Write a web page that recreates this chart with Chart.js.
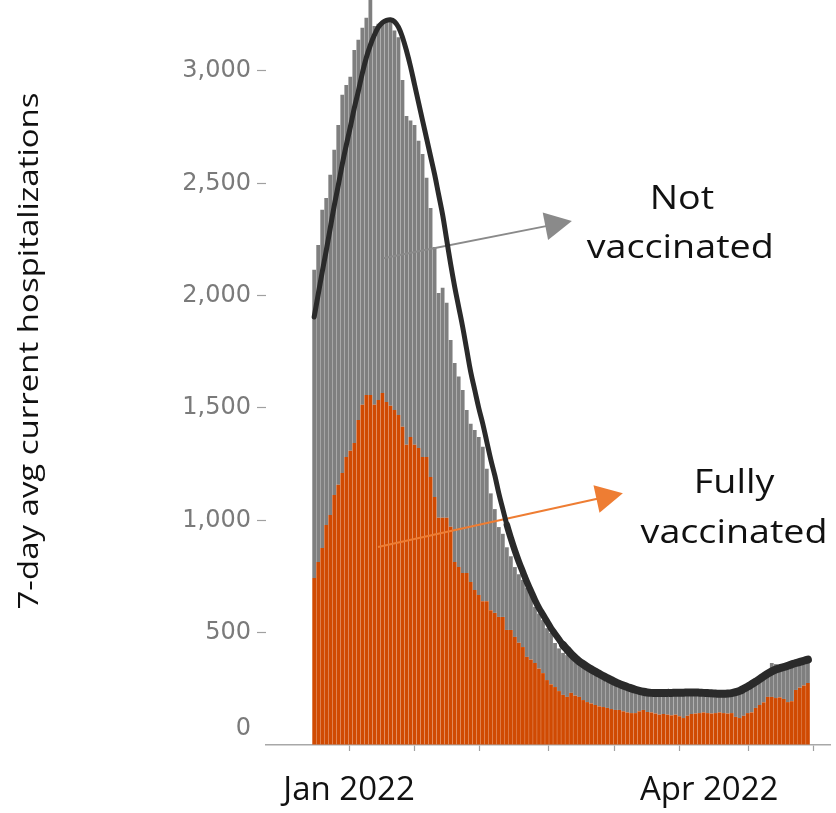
<!DOCTYPE html>
<html>
<head>
<meta charset="utf-8">
<title>7-day avg current hospitalizations</title>
<script src="https://cdn.jsdelivr.net/npm/chart.js@4.4.0/dist/chart.umd.min.js"></script>
<style>
  html, body { margin: 0; padding: 0; background: #fff; }
  #wrap { width: 836px; height: 813px; }
</style>
</head>
<body>
<div id="wrap"><canvas id="hospChart" width="836" height="813"></canvas></div>
<script>
/* Datos: un valor por día, desde el 23 dic 2021 (día 0) */
const fullyVaccinated = [
  743, 815, 877, 979, 1024, 1113, 1158, 1211, 1282, 1310,
  1344, 1447, 1514, 1558, 1558, 1514, 1536, 1567, 1527, 1510,
  1491, 1469, 1416, 1336, 1371, 1336, 1322, 1282, 1282, 1193,
  1104, 1011, 1011, 1011, 971, 815, 792, 766, 766, 726,
  690, 668, 640, 640, 600, 588, 570, 570, 512, 512,
  481, 455, 436, 392, 380, 365, 340, 320, 289, 270,
  258, 240, 223, 214, 232, 220, 214, 200, 191, 185,
  178, 172, 169, 165, 160, 156, 156, 150, 145, 142,
  142, 150, 156, 147, 145, 140, 135, 138, 135, 132,
  135, 128, 120, 130, 138, 140, 142, 145, 142, 140,
  142, 145, 142, 140, 142, 125, 120, 130, 142, 145,
  165, 178, 190, 214, 214, 209, 212, 205, 191, 195,
  245, 255, 265, 276
];
const notVaccinated = [
  1372, 1411, 1505, 1456, 1514, 1536, 1602, 1683, 1656, 1664,
  1750, 1692, 1678, 1679, 1772, 1686, 1674, 1648, 1693, 1715,
  1689, 1681, 1544, 1464, 1409, 1424, 1368, 1348, 1243, 1197,
  1113, 1001, 1024, 957, 832, 885, 848, 814, 725, 704,
  712, 703, 687, 590, 520, 462, 400, 370, 368, 328,
  311, 305, 299, 308, 296, 250, 245, 236, 231, 229,
  196, 190, 187, 186, 160, 160, 156, 156, 154, 155,
  156, 148, 141, 138, 130, 124, 120, 115, 113, 112,
  103, 88, 76, 85, 83, 90, 97, 90, 91, 98,
  97, 97, 102, 98, 92, 86, 83, 83, 82, 82,
  83, 75, 80, 85, 86, 105, 116, 115, 113, 120,
  110, 112, 110, 106, 151, 151, 123, 135, 154, 155,
  110, 105, 100, 96
];
// curva suavizada (línea negra)
const trendLine = [
  1905, 2005, 2105, 2200, 2300, 2400, 2490, 2585, 2670, 2750,
  2835, 2910, 2990, 3060, 3115, 3160, 3195, 3215, 3225, 3228,
  3220, 3195, 3150, 3090, 3020, 2940, 2860, 2780, 2700, 2620,
  2540, 2450, 2360, 2250, 2140, 2040, 1950, 1860, 1760, 1660,
  1580, 1500, 1430, 1350, 1270, 1200, 1120, 1050, 980, 920,
  865, 815, 770, 725, 685, 645, 610, 580, 550, 520,
  495, 470, 445, 425, 405, 388, 372, 360, 348, 337,
  327, 317, 307, 298, 289, 280, 272, 265, 258, 252,
  246, 241, 237, 234, 232, 231, 231, 231, 232, 232,
  233, 233, 233, 234, 234, 234, 233, 232, 231, 230,
  229, 228, 228, 229, 231, 235, 241, 250, 260, 271,
  282, 294, 306, 318, 328, 336, 342, 347, 353, 359,
  365, 370, 375, 380
];

const yTicks = [0, 500, 1000, 1500, 2000, 2500, 3000];
// marcas del eje x (en días) y etiquetas
const xTickMarks = [8.7, 24.9, 41.3, 58.3, 74.7, 91.1, 108.1, 124.5];
const xLabels = ["Jan 2022", "Apr 2022"];
const xLabelDays = [8.7, 98.4];

const toPoints = (arr) => arr.map((v, i) => ({ x: i, y: v }));

// texto estirado horizontalmente para igualar el ancho del original
function drawStretched(ctx, text, x, y, font, color, scaleX) {
  ctx.save();
  ctx.font = font;
  ctx.fillStyle = color;
  ctx.textAlign = "center";
  ctx.textBaseline = "alphabetic";
  ctx.translate(x, y);
  ctx.scale(scaleX, 1);
  ctx.fillText(text, 0, 0);
  ctx.restore();
}

function drawArrow(ctx, x0, y0, x1, y1, color, lineW) {
  const ang = Math.atan2(y1 - y0, x1 - x0);
  const headLen = 27, headHalf = 14;
  const bx = x1 - headLen * Math.cos(ang);
  const by = y1 - headLen * Math.sin(ang);
  ctx.save();
  ctx.strokeStyle = color;
  ctx.lineWidth = lineW;
  ctx.beginPath();
  ctx.moveTo(x0, y0);
  ctx.lineTo(bx + 2 * Math.cos(ang), by + 2 * Math.sin(ang));
  ctx.stroke();
  ctx.fillStyle = color;
  ctx.beginPath();
  ctx.moveTo(x1, y1);
  ctx.lineTo(bx + headHalf * Math.sin(ang), by - headHalf * Math.cos(ang));
  ctx.lineTo(bx - headHalf * Math.sin(ang), by + headHalf * Math.cos(ang));
  ctx.closePath();
  ctx.fill();
  ctx.restore();
}

const annotations = {
  id: "annotations",
  // flechas: sobre las barras, debajo de la línea
  afterDatasetDraw(chart, args) {
    if (args.index !== 0) return;
    const ctx = chart.ctx;
    const xs = chart.scales.x;
    const ys = chart.scales.y;
    drawArrow(ctx, xs.getPixelForValue(17.2), ys.getPixelForValue(2167),
      xs.getPixelForValue(64.2), ys.getPixelForValue(2332), "#8a8a8a", 2);
    drawArrow(ctx, xs.getPixelForValue(15.9), ys.getPixelForValue(881),
      xs.getPixelForValue(76.9), ys.getPixelForValue(1121), "#ee7d33", 2);
  },
  afterDraw(chart) {
    const ctx = chart.ctx;
    const xs = chart.scales.x;
    const ys = chart.scales.y;
    const font = "500 32px 'Open Sans'";
    ctx.font = font;
    const sx = 187 / ctx.measureText("vaccinated").width;
    drawStretched(ctx, "Not", xs.getPixelForValue(91.6), ys.getPixelForValue(2385), font, "#111", sx);
    drawStretched(ctx, "vaccinated", xs.getPixelForValue(91.2), ys.getPixelForValue(2167), font, "#111", sx);
    drawStretched(ctx, "Fully", xs.getPixelForValue(104.6), ys.getPixelForValue(1122), font, "#111", sx);
    drawStretched(ctx, "vaccinated", xs.getPixelForValue(104.6), ys.getPixelForValue(900), font, "#111", sx);

    // etiqueta "0" (un poco por encima de la línea del eje)
    ctx.save();
    ctx.font = "24px 'DejaVu Sans'";
    ctx.fillStyle = "#7a7a7a";
    ctx.textAlign = "right";
    ctx.textBaseline = "middle";
    ctx.fillText("0", 251, 729);
    ctx.restore();

    // título del eje y
    const tFont = "500 27px 'Open Sans'";
    ctx.save();
    ctx.font = tFont;
    const title = "7-day avg current hospitalizations";
    const st = 517 / ctx.measureText(title).width;
    ctx.translate(30, 351);
    ctx.rotate(-Math.PI / 2);
    ctx.scale(st, 1);
    ctx.fillStyle = "#111";
    ctx.textAlign = "center";
    ctx.textBaseline = "middle";
    ctx.fillText(title, 0, 0);
    ctx.restore();
  }
};

new Chart(document.getElementById("hospChart"), {
  data: {
    datasets: [
      {
        type: "bar",
        label: "Fully vaccinated",
        data: toPoints(fullyVaccinated),
        backgroundColor: "#d04a02",
        barPercentage: 0.94,
        categoryPercentage: 1,
        stack: "bars",
        order: 1
      },
      {
        type: "bar",
        label: "Not vaccinated",
        data: toPoints(notVaccinated),
        backgroundColor: "#7f7f7f",
        barPercentage: 0.94,
        categoryPercentage: 1,
        stack: "bars",
        order: 2
      },
      {
        type: "line",
        label: "Trend",
        data: toPoints(trendLine),
        borderColor: "#2a2a2a",
        borderWidth: 5,
        borderCapStyle: "round",
        borderJoinStyle: "round",
        pointRadius: 0,
        tension: 0.4,
        stack: "trend",
        order: 0,
        segment: {
          borderWidth: (c) => (c.p0DataIndex < 48 ? 5 : c.p0DataIndex < 62 ? 6.5 : 8)
        }
      }
    ]
  },
  options: {
    responsive: false,
    devicePixelRatio: 1,
    animation: false,
    events: [],
    layout: { padding: { left: 0, right: 6, top: 0, bottom: 0 } },
    plugins: { legend: { display: false }, tooltip: { enabled: false } },
    scales: {
      x: {
        type: "linear",
        min: -12,
        max: 128.5,
        offset: false,
        stacked: true,
        afterBuildTicks: (s) => {
          const t = xTickMarks.map((v) => ({ value: v }));
          xLabelDays.forEach((d) => {
            if (!xTickMarks.includes(d)) t.push({ value: d });
          });
          t.sort((a, b) => a.value - b.value);
          s.ticks = t;
        },
        afterFit: (s) => {
          s.height = 68;
          s.paddingLeft = 0;
          s.paddingRight = 0;
        },
        grid: {
          offset: false,
          drawOnChartArea: false,
          drawTicks: true,
          tickLength: 6,
          tickWidth: 1.2,
          tickColor: (c) => (c.tick && xTickMarks.includes(c.tick.value) ? "#a0a0a0" : "rgba(0,0,0,0)")
        },
        border: { display: true, color: "#a8a8a8", width: 1.5 },
        ticks: {
          autoSkip: false,
          maxRotation: 0,
          minRotation: 0,
          padding: 20,
          color: "#111",
          font: { family: "Open Sans", size: 33, weight: "500" },
          callback: (v) => {
            const k = xLabelDays.indexOf(v);
            return k >= 0 ? xLabels[k] : "";
          }
        }
      },
      y: {
        min: 0,
        max: 3316,
        stacked: true,
        afterBuildTicks: (s) => {
          s.ticks = yTicks.map((v) => ({ value: v }));
        },
        afterFit: (s) => {
          s.width = 266;
          s.paddingTop = 0;
          s.paddingBottom = 0;
        },
        grid: {
          drawOnChartArea: false,
          drawTicks: true,
          tickLength: 9,
          tickWidth: 1.2,
          tickColor: (c) => (c.tick && c.tick.value === 0 ? "rgba(0,0,0,0)" : "#a0a0a0")
        },
        border: { display: false },
        ticks: {
          padding: 6,
          color: "#7a7a7a",
          font: { family: "DejaVu Sans", size: 24 },
          callback: (v) => (v === 0 ? "" : v.toLocaleString("en-US"))
        }
      }
    }
  },
  plugins: [annotations]
});
</script>
</body>
</html>
